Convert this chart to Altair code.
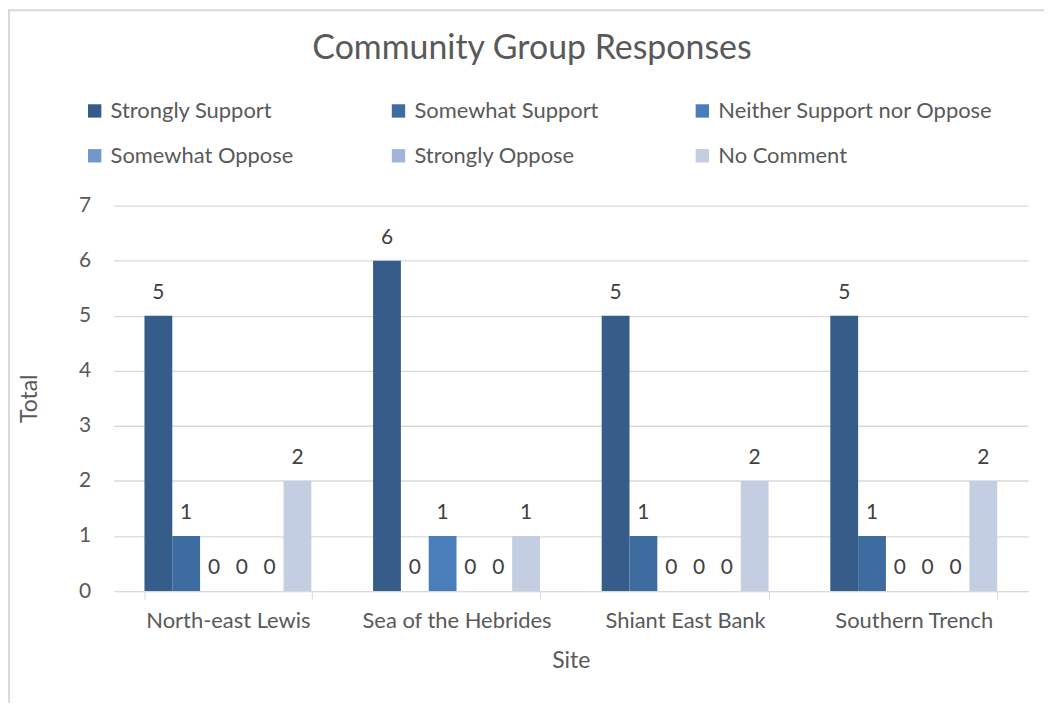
import altair as alt
import pandas as pd

title_text = ["Community Group Responses"]
sites = ["North-east Lewis", "Sea of the Hebrides", "Shiant East Bank", "Southern Trench"]
responses = ["Strongly Support", "Somewhat Support", "Neither Support nor Oppose",
             "Somewhat Oppose", "Strongly Oppose", "No Comment"]
colors = ["#365D8A", "#3F6CA0", "#4A7EBB", "#7396CB", "#A2B5D8", "#C3CEE3"]

strongly_support = [5, 6, 5, 5]
somewhat_support = [1, 0, 1, 1]
neither = [0, 1, 0, 0]
somewhat_oppose = [0, 0, 0, 0]
strongly_oppose = [0, 0, 0, 0]
no_comment = [2, 1, 2, 2]

series = [strongly_support, somewhat_support, neither, somewhat_oppose, strongly_oppose, no_comment]
rows = []
for r, vals in zip(responses, series):
    for s, v in zip(sites, vals):
        rows.append({"Site": s, "Response": r, "Total": v})
df = pd.DataFrame(rows)

FONT = "Lato"
W, H = 918, 387
PL, PT, PR, PB = 106, 197, 16, 112

base = alt.Chart(df).encode(
    x=alt.X("Site:N", sort=sites, title="Site",
            scale=alt.Scale(paddingInner=0.27, paddingOuter=0.135),
            axis=alt.Axis(labelAngle=0, labelFontSize=22, labelColor="#595959", labelLimit=400,
                          titleFontSize=23, titleColor="#595959", titleFontWeight="normal",
                          domainColor="#D9D9D9", tickColor="#D9D9D9", tickBand="extent",
                          tickSize=8, labelPadding=12, titlePadding=18, grid=False)),
    xOffset=alt.XOffset("Response:N", sort=responses),
)

bars = base.mark_bar().encode(
    y=alt.Y("Total:Q", title="Total", scale=alt.Scale(domain=[0, 7]),
            axis=alt.Axis(values=list(range(8)), format="d", labelFontSize=21, labelColor="#595959",
                          titleFontSize=23, titleColor="#595959", titleFontWeight="normal",
                          domain=False, ticks=False, labelPadding=23, titlePadding=37,
                          gridColor="#D9D9D9", gridWidth=1.3)),
    color=alt.Color("Response:N", sort=responses,
                    scale=alt.Scale(domain=responses, range=colors),
                    legend=alt.Legend(title=None, orient="none", legendX=-30, legendY=-106,
                                      direction="horizontal",
                                      columns=3, gridAlign="all", columnPadding=2,
                                      rowPadding=23, symbolType="square", symbolSize=180,
                                      symbolStrokeWidth=0, labelFontSize=22,
                                      labelColor="#595959", labelOffset=5, labelLimit=400)),
)

labels = base.mark_text(baseline="alphabetic", dy=-17, fontSize=21, color="#404040", font=FONT).encode(
    y=alt.Y("Total:Q"),
    text=alt.Text("Total:Q"),
)

frame = alt.Chart(pd.DataFrame({"k": [0]}))
left_edge = frame.mark_rule(color="#D9D9D9", strokeWidth=2).encode(
    x=alt.value(-PL + 1), y=alt.value(-PT), y2=alt.value(H + PB))
top_edge = frame.mark_rule(color="#D9D9D9", strokeWidth=2).encode(
    x=alt.value(-PL), x2=alt.value(W + PR), y=alt.value(-PT + 1))

title = alt.Chart(pd.DataFrame({"t": title_text})).mark_text(
    fontSize=34, color="#595959", font=FONT, align="center", baseline="middle"
).encode(text="t:N", x=alt.value(420), y=alt.value(-157))

chart = alt.layer(left_edge, top_edge, title, bars, labels).properties(
    width=W, height=H,
    padding={"left": PL, "top": PT, "right": PR, "bottom": PB},
    autosize=alt.AutoSizeParams(type="none"),
).configure(font=FONT, background="white").configure_view(stroke=None)

chart.save("out.html", embed_options={"renderer": "svg", "actions": False})
